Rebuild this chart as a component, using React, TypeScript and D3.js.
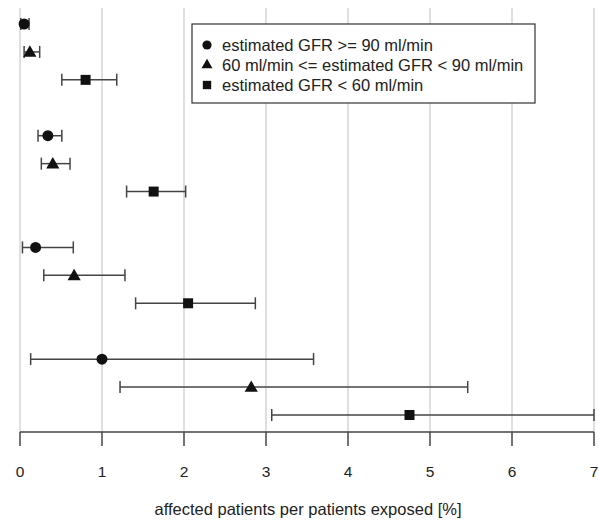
import React, { useEffect, useRef } from 'react';
import * as d3 from 'd3';

// groups of three eGFR classes, each row: estimate with lower/upper bound
const groups = [0, 1, 2, 3];
const classes = ['circle', 'triangle', 'square'];
const estimates = [
    [0.05, 0.12, 0.8],
    [0.34, 0.4, 1.63],
    [0.19, 0.66, 2.05],
    [1.0, 2.82, 4.75],
];
const lower = [
    [0.01, 0.05, 0.51],
    [0.22, 0.26, 1.3],
    [0.03, 0.29, 1.41],
    [0.13, 1.22, 3.07],
];
const upper = [
    [0.11, 0.24, 1.18],
    [0.51, 0.61, 2.02],
    [0.65, 1.28, 2.87],
    [3.58, 5.46, 7.0],
];
const ticks = [0, 1, 2, 3, 4, 5, 6, 7];
const legendLabels = [
    'estimated GFR >= 90 ml/min',
    '60 ml/min <= estimated GFR < 90 ml/min',
    'estimated GFR < 60 ml/min',
];
const xTitle = 'affected patients per patients exposed [%]';

const symbolFor = (c: string) =>
    c === 'circle' ? d3.symbolCircle : c === 'triangle' ? d3.symbolTriangle : d3.symbolSquare;
const sizeFor = (c: string) => (c === 'circle' ? 95 : c === 'triangle' ? 75 : 100);

const App = () => {
    const ref = useRef<SVGSVGElement>(null);

    useEffect(() => {
        const svg = d3.select(ref.current);
        svg.selectAll('*').remove();

        const x = d3.scaleLinear().domain([0, 7]).range([20, 594]);
        // 4 slots per group (3 rows + empty gap)
        const y = d3.scaleLinear().domain([0, 14]).range([24, 415]);
        const axisY = 432;
        const font = 'Liberation Sans, Arial, sans-serif';

        // vertical grid lines
        svg.append('g')
            .selectAll('line')
            .data(ticks)
            .enter()
            .append('line')
            .attr('x1', d => x(d))
            .attr('x2', d => x(d))
            .attr('y1', 8)
            .attr('y2', axisY)
            .attr('stroke', '#d4d4d4')
            .attr('stroke-width', 1.5);

        const rows = groups.flatMap(g =>
            classes.map((c, k) => ({
                slot: g * 4 + k,
                cls: c,
                est: estimates[g][k],
                lo: lower[g][k],
                hi: upper[g][k],
            }))
        );

        const rowG = svg.append('g')
            .selectAll('g')
            .data(rows)
            .enter()
            .append('g');

        rowG.append('line')
            .attr('x1', d => x(d.lo))
            .attr('x2', d => x(d.hi))
            .attr('y1', d => y(d.slot))
            .attr('y2', d => y(d.slot))
            .attr('stroke', '#444')
            .attr('stroke-width', 1.5);
        rowG.selectAll('line.cap')
            .data(d => [d.lo, d.hi].map(v => ({ v, slot: d.slot })))
            .enter()
            .append('line')
            .attr('class', 'cap')
            .attr('x1', d => x(d.v))
            .attr('x2', d => x(d.v))
            .attr('y1', d => y(d.slot) - 6)
            .attr('y2', d => y(d.slot) + 6)
            .attr('stroke', '#444')
            .attr('stroke-width', 1.5);
        rowG.append('path')
            .attr('d', d => d3.symbol().type(symbolFor(d.cls)).size(sizeFor(d.cls))())
            .attr('transform', d => `translate(${x(d.est)},${y(d.slot) + (d.cls === 'triangle' ? 1 : 0)})`)
            .attr('fill', '#111');

        // x axis
        const axis = svg.append('g').attr('transform', `translate(0,${axisY})`);
        axis.append('line')
            .attr('x1', x(0))
            .attr('x2', x(7))
            .attr('stroke', '#444')
            .attr('stroke-width', 1.5);
        axis.selectAll('line.tick')
            .data(ticks)
            .enter()
            .append('line')
            .attr('class', 'tick')
            .attr('x1', d => x(d))
            .attr('x2', d => x(d))
            .attr('y1', 0)
            .attr('y2', 14)
            .attr('stroke', '#444')
            .attr('stroke-width', 1.5);
        axis.selectAll('text')
            .data(ticks)
            .enter()
            .append('text')
            .attr('x', d => x(d))
            .attr('y', 45)
            .attr('text-anchor', 'middle')
            .attr('font-family', font)
            .attr('font-size', 15.5)
            .attr('fill', '#222')
            .text(d => d);

        svg.append('text')
            .attr('x', 308)
            .attr('y', 515)
            .attr('text-anchor', 'middle')
            .attr('font-family', font)
            .attr('font-size', 16.5)
            .attr('fill', '#222')
            .text(xTitle);

        // legend
        const legend = svg.append('g');
        legend.append('rect')
            .attr('x', 192)
            .attr('y', 24)
            .attr('width', 343)
            .attr('height', 79)
            .attr('fill', 'white')
            .attr('stroke', '#333')
            .attr('stroke-width', 1.2);
        const items = legend.selectAll('g')
            .data(classes)
            .enter()
            .append('g')
            .attr('transform', (d, i) => `translate(0,${45 + i * 20})`);
        items.append('path')
            .attr('d', d => d3.symbol().type(symbolFor(d)).size(sizeFor(d) * 0.7)())
            .attr('transform', 'translate(207,0)')
            .attr('fill', '#111');
        items.append('text')
            .attr('x', 222)
            .attr('y', 6)
            .attr('font-family', font)
            .attr('font-size', 16.5)
            .attr('fill', '#222')
            .text((d, i) => legendLabels[i]);
    }, []);

    return <svg ref={ref} width={599} height={522} style={{ position: 'absolute', left: 0, top: 0 }} />;
};

export default App;
